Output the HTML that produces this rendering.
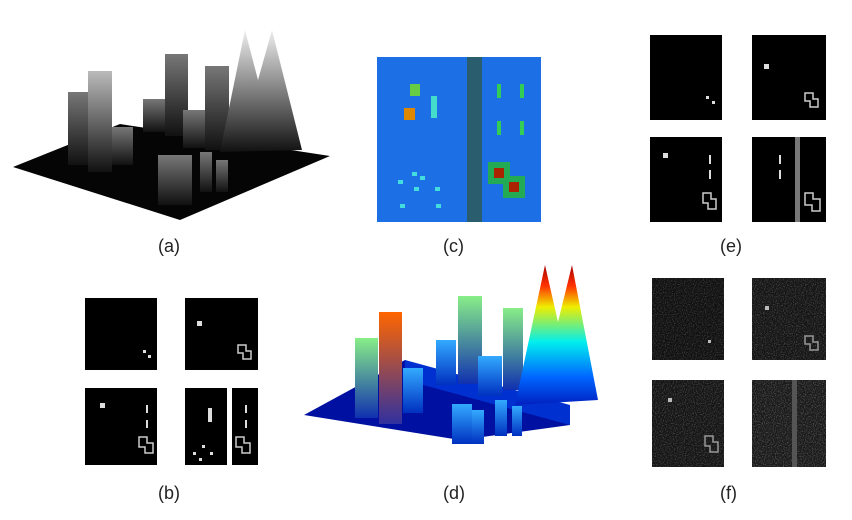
<!DOCTYPE html>
<html><head><meta charset="utf-8"><style>
body{margin:0;background:#fff;width:852px;height:520px;overflow:hidden}
svg{display:block}
text{font-family:"Liberation Sans",sans-serif;font-size:18px;fill:#222}
</style></head><body>
<svg width="852" height="520" viewBox="0 0 852 520">
<defs>
<linearGradient id="g1" x1="0" y1="0" x2="0" y2="1"><stop offset="0" stop-color="#bbb"/><stop offset="1" stop-color="#111"/></linearGradient>
<linearGradient id="g2" x1="0" y1="0" x2="0" y2="1"><stop offset="0" stop-color="#777"/><stop offset="1" stop-color="#111"/></linearGradient>
<linearGradient id="g3" x1="0" y1="0" x2="0" y2="1"><stop offset="0" stop-color="#eee"/><stop offset="1" stop-color="#111"/></linearGradient>
<linearGradient id="jet" x1="0" y1="0" x2="0" y2="1"><stop offset="0" stop-color="#a00"/><stop offset=".15" stop-color="#f30"/><stop offset=".3" stop-color="#ee0"/><stop offset=".55" stop-color="#0ee"/><stop offset=".8" stop-color="#06f"/><stop offset="1" stop-color="#0020c0"/></linearGradient>
<linearGradient id="gr" x1="0" y1="0" x2="0" y2="1"><stop offset="0" stop-color="#8e8"/><stop offset="1" stop-color="#1030b0"/></linearGradient>
<linearGradient id="or" x1="0" y1="0" x2="0" y2="1"><stop offset="0" stop-color="#f60"/><stop offset="1" stop-color="#3030a0"/></linearGradient>
<linearGradient id="bl" x1="0" y1="0" x2="0" y2="1"><stop offset="0" stop-color="#3af"/><stop offset="1" stop-color="#0030c0"/></linearGradient>
<filter id="nz"><feTurbulence type="fractalNoise" baseFrequency="0.9" numOctaves="1" seed="3"/><feColorMatrix values="0 0 0 0 1  0 0 0 0 1  0 0 0 0 1  1.2 0 0 0 -0.55"/></filter>
</defs>
<!-- (a) -->
<polygon points="13,167 120,124 330,156 180,220" fill="#050505"/>
<rect x="68" y="92" width="20" height="73" fill="url(#g2)"/>
<rect x="88" y="71" width="24" height="101" fill="url(#g1)"/>
<rect x="112" y="127" width="21" height="38" fill="url(#g2)"/>
<rect x="143" y="99" width="22" height="33" fill="url(#g2)"/>
<rect x="165" y="54" width="23" height="82" fill="url(#g2)"/>
<rect x="183" y="110" width="22" height="38" fill="url(#g2)"/>
<rect x="205" y="66" width="24" height="84" fill="url(#g2)"/>
<polygon points="220,152 245,30 258,80 272,30 302,150" fill="url(#g3)"/>
<rect x="158" y="155" width="34" height="50" fill="url(#g2)"/>
<rect x="200" y="152" width="12" height="40" fill="url(#g2)"/>
<rect x="216" y="160" width="12" height="32" fill="url(#g2)"/>
<text x="158" y="252">(a)</text>
<!-- (c) -->
<rect x="377" y="57" width="164" height="165" fill="#1c6fe4"/>
<rect x="467" y="57" width="15" height="165" fill="#2a5d6e"/>
<rect x="410" y="84" width="10" height="12" fill="#6c4"/>
<rect x="404" y="108" width="11" height="12" fill="#d80"/>
<rect x="431" y="96" width="6" height="22" fill="#4dc"/>
<rect x="497" y="84" width="4" height="14" fill="#3c5"/>
<rect x="520" y="84" width="4" height="14" fill="#3c5"/>
<rect x="497" y="121" width="4" height="14" fill="#3c5"/>
<rect x="520" y="121" width="4" height="14" fill="#3c5"/>
<rect x="488" y="162" width="22" height="22" fill="#2a5"/><rect x="503" y="176" width="22" height="22" fill="#2a5"/>
<rect x="494" y="168" width="10" height="10" fill="#a20"/><rect x="509" y="182" width="10" height="10" fill="#a20"/>
<g fill="#4dd"><rect x="398" y="180" width="5" height="4"/><rect x="412" y="172" width="5" height="4"/><rect x="420" y="176" width="5" height="4"/><rect x="414" y="187" width="5" height="4"/><rect x="435" y="187" width="5" height="4"/><rect x="436" y="204" width="5" height="4"/><rect x="400" y="204" width="5" height="4"/></g>
<text x="443" y="252">(c)</text>
<!-- (e) -->
<rect x="650" y="35" width="72" height="85" fill="#000"/>
<rect x="752" y="35" width="74" height="85" fill="#000"/>
<rect x="650" y="137" width="72" height="85" fill="#000"/>
<rect x="752" y="137" width="74" height="85" fill="#000"/>
<g fill="#ddd"><rect x="706" y="96" width="3" height="3"/><rect x="712" y="101" width="3" height="3"/><rect x="764" y="64" width="5" height="5"/><rect x="663" y="153" width="5" height="5"/><rect x="709" y="155" width="2" height="9"/><rect x="709" y="170" width="2" height="9"/><rect x="779" y="155" width="2" height="9"/><rect x="779" y="170" width="2" height="9"/><rect x="795" y="137" width="5" height="85" fill="#777"/></g>
<g fill="none" stroke="#ccc" stroke-width="1.5"><path d="M805,93h8v6h5v8h-8v-6h-5z"/><path d="M703,193h8v6h5v10h-8v-6h-5z"/><path d="M805,193h8v6h7v12h-8v-6h-7z"/></g>
<text x="720" y="252">(e)</text>
<!-- (b) -->
<rect x="85" y="298" width="72" height="72" fill="#000"/>
<rect x="185" y="298" width="73" height="72" fill="#000"/>
<rect x="85" y="388" width="72" height="77" fill="#000"/>
<rect x="185" y="388" width="42" height="77" fill="#000"/>
<rect x="232" y="388" width="26" height="77" fill="#000"/>
<g fill="#ddd"><rect x="143" y="350" width="3" height="3"/><rect x="148" y="355" width="3" height="3"/><rect x="197" y="321" width="5" height="5"/><rect x="100" y="403" width="5" height="5"/><rect x="146" y="405" width="2" height="8"/><rect x="146" y="420" width="2" height="8"/><rect x="208" y="408" width="4" height="14"/><rect x="245" y="405" width="2" height="8"/><rect x="245" y="420" width="2" height="8"/><rect x="193" y="452" width="3" height="3"/><rect x="202" y="445" width="3" height="3"/><rect x="210" y="452" width="3" height="3"/><rect x="199" y="458" width="3" height="3"/></g>
<g fill="none" stroke="#ccc" stroke-width="1.5"><path d="M238,345h8v6h5v8h-8v-6h-5z"/><path d="M139,437h8v6h6v10h-8v-6h-6z"/><path d="M236,437h8v6h6v10h-8v-6h-6z"/></g>
<text x="158" y="499">(b)</text>
<!-- (d) -->
<polygon points="304,415 405,360 570,425 460,440" fill="#0010a0"/>
<polygon points="405,360 570,405 570,425 405,380" fill="#0030d0"/>
<rect x="355" y="338" width="23" height="80" fill="url(#gr)"/>
<rect x="379" y="312" width="23" height="112" fill="url(#or)"/>
<rect x="403" y="368" width="20" height="45" fill="url(#bl)"/>
<rect x="436" y="340" width="20" height="45" fill="url(#bl)"/>
<rect x="458" y="296" width="24" height="88" fill="url(#gr)"/>
<rect x="478" y="356" width="24" height="40" fill="url(#bl)"/>
<rect x="503" y="308" width="20" height="82" fill="url(#gr)"/>
<polygon points="515,405 545,265 558,322 572,265 598,400" fill="url(#jet)"/>
<rect x="452" y="404" width="20" height="40" fill="url(#bl)"/>
<rect x="472" y="410" width="12" height="34" fill="url(#bl)"/>
<rect x="495" y="400" width="12" height="36" fill="url(#bl)"/>
<rect x="512" y="406" width="10" height="30" fill="url(#bl)"/>
<text x="443" y="499">(d)</text>
<!-- (f) -->
<g>
<rect x="652" y="278" width="72" height="82" fill="#111"/>
<rect x="752" y="278" width="74" height="82" fill="#151515"/>
<rect x="652" y="380" width="72" height="87" fill="#151515"/>
<rect x="752" y="380" width="74" height="87" fill="#1a1a1a"/>
<rect x="652" y="278" width="72" height="82" filter="url(#nz)" opacity=".5"/>
<rect x="752" y="278" width="74" height="82" filter="url(#nz)" opacity=".6"/>
<rect x="652" y="380" width="72" height="87" filter="url(#nz)" opacity=".6"/>
<rect x="752" y="380" width="74" height="87" filter="url(#nz)" opacity=".7"/>
<g fill="#bbb"><rect x="708" y="340" width="3" height="3"/><rect x="765" y="306" width="4" height="4"/><rect x="668" y="398" width="4" height="4"/><rect x="792" y="380" width="5" height="87" fill="#555"/></g>
<g fill="none" stroke="#999" stroke-width="1.5"><path d="M805,336h8v6h5v8h-8v-6h-5z"/><path d="M705,436h8v6h5v10h-8v-6h-5z"/></g>
</g>
<text x="720" y="499">(f)</text>
</svg>
</body></html>
